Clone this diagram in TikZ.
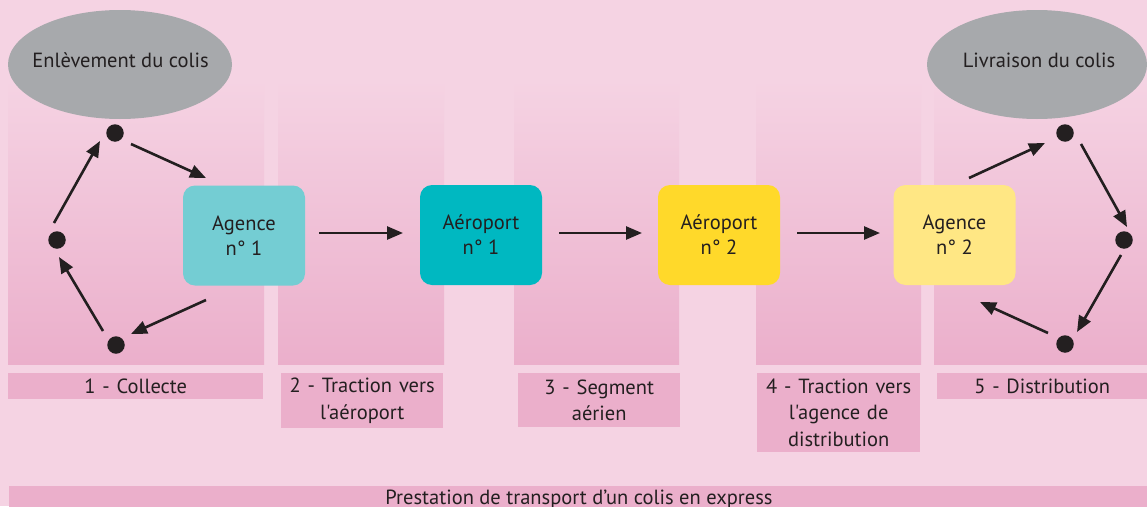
\documentclass[tikz,border=0pt]{standalone}
\usepackage{fontspec}
\setmainfont{PT Sans}[Ligatures=TeXOff]
\usetikzlibrary{arrows.meta,shapes.geometric}
\definecolor{bgpink}{HTML}{F5D3E3}
\definecolor{colpink}{HTML}{EBAFCB}
\definecolor{ellgray}{HTML}{A7A9AC}
\definecolor{agenceA}{HTML}{74CDD3}
\definecolor{aeroA}{HTML}{00B8C1}
\definecolor{aeroB}{HTML}{FFD92A}
\definecolor{agenceB}{HTML}{FFE784}
\definecolor{ink}{HTML}{231F20}
\begin{document}
\begin{tikzpicture}[x=1pt,y=-1pt,
  txt/.style={font=\fontsize{20.5}{25}\selectfont, text=ink},
  stage/.style={txt, rounded corners=12pt, minimum width=122pt, minimum height=100pt, align=center, inner sep=0pt},
  lbl/.style={fill=colpink, anchor=north west, inner xsep=0pt, inner ysep=0pt, align=center, font=\fontsize{20.5}{26.5}\selectfont, text=ink},
  endpt/.style={ellipse, fill=ellgray, minimum width=#1, minimum height=109pt, inner sep=0pt},
  dot/.style={circle, fill=ink, minimum size=17.5pt, inner sep=0pt},
  arr/.style={draw=ink, line width=2.6pt, -{Triangle[length=16pt,width=13pt]}},
  column/.style={top color=bgpink, bottom color=colpink}
]
\useasboundingbox (0,0) rectangle (1147,506);
\clip (0,0) rectangle (1147,506);
\fill[bgpink] (0,0) rectangle (1147,506);

% stage columns
\shade[column] (8,80) rectangle (264,364);
\shade[column] (278,80) rectangle (444,364);
\shade[column] (514,80) rectangle (679,364);
\shade[column] (756,80) rectangle (921,364);
\shade[column] (934,80) rectangle (1147,364);

% end ellipses
\node[endpt=224pt] (e1) at (120,64.5) {};
\node[txt, anchor=base] (e1t) at (120.5,67) {Enlèvement du colis};
\node[endpt=220pt] (e2) at (1037,64.5) {};
\node[txt, anchor=base] (e2t) at (1039,67) {Livraison du colis};

% stage boxes
\node[stage, fill=agenceA] (a1) at (244,235.5) {Agence\\n° 1};
\node[stage, fill=aeroA] (ap1) at (481,235) {Aéroport\\n° 1};
\node[stage, fill=aeroB] (ap2) at (719,235) {Aéroport\\n° 2};
\node[stage, fill=agenceB] (a2) at (954.5,235) {Agence\\n° 2};

% dots
\node[dot] (d1) at (115,133) {};
\node[dot] (d2) at (57,240) {};
\node[dot] (d3) at (116,345) {};
\node[dot] (d4) at (1065,133) {};
\node[dot] (d5) at (1124,240) {};
\node[dot] (d6) at (1065,344) {};

% collection loop
\draw[arr] ([shift={(16,11)}]d1.center) -- ([shift={(-38,-57.5)}]a1.center);
\draw[arr] ([shift={(-3,-17)}]d2.center) -- ([shift={(-15,8)}]d1.center);
\draw[arr] ([shift={(-13,-14)}]d3.center) -- ([shift={(2,17)}]d2.center);
\draw[arr] ([shift={(-38,64.5)}]a1.center) -- ([shift={(15,-11)}]d3.center);

% distribution loop
\draw[arr] ([shift={(14.5,-57)}]a2.center) -- ([shift={(-20,10)}]d4.center);
\draw[arr] ([shift={(16,11)}]d4.center) -- ([shift={(3,-13)}]d5.center);
\draw[arr] ([shift={(-3,15)}]d5.center) -- ([shift={(12,-12)}]d6.center);
\draw[arr] ([shift={(-17,-11)}]d6.center) -- ([shift={(25.5,67)}]a2.center);

% main chain
\draw[arr] ([shift={(75,-2.5)}]a1.center) -- ([shift={(-78,-2)}]ap1.center);
\draw[arr] ([shift={(78,-2)}]ap1.center) -- ([shift={(-77,-2)}]ap2.center);
\draw[arr] ([shift={(78,-2)}]ap2.center) -- ([shift={(-74.5,-2)}]a2.center);

% stage labels
\node[lbl, text width=255pt, minimum height=26pt] (l1) at (8,373) {1 - Collecte};
\node[lbl, text width=162pt, minimum height=55pt] (l2) at (281,373) {2 - Traction vers\\l'aéroport};
\node[lbl, text width=162pt, minimum height=54pt] (l3) at (518,373) {3 - Segment\\aérien};
\node[lbl, text width=163pt, minimum height=79pt] (l4) at (757,373) {4 - Traction vers\\l'agence de\\distribution};
\node[lbl, text width=210pt, minimum height=26pt] (l5) at (937,373) {5 - Distribution};

% bottom caption bar
\fill[colpink] (9,486) rectangle (1147,512);
\node[txt, anchor=base] (cap) at (579,504) {Prestation de transport d’un colis en express};
\end{tikzpicture}
\end{document}
